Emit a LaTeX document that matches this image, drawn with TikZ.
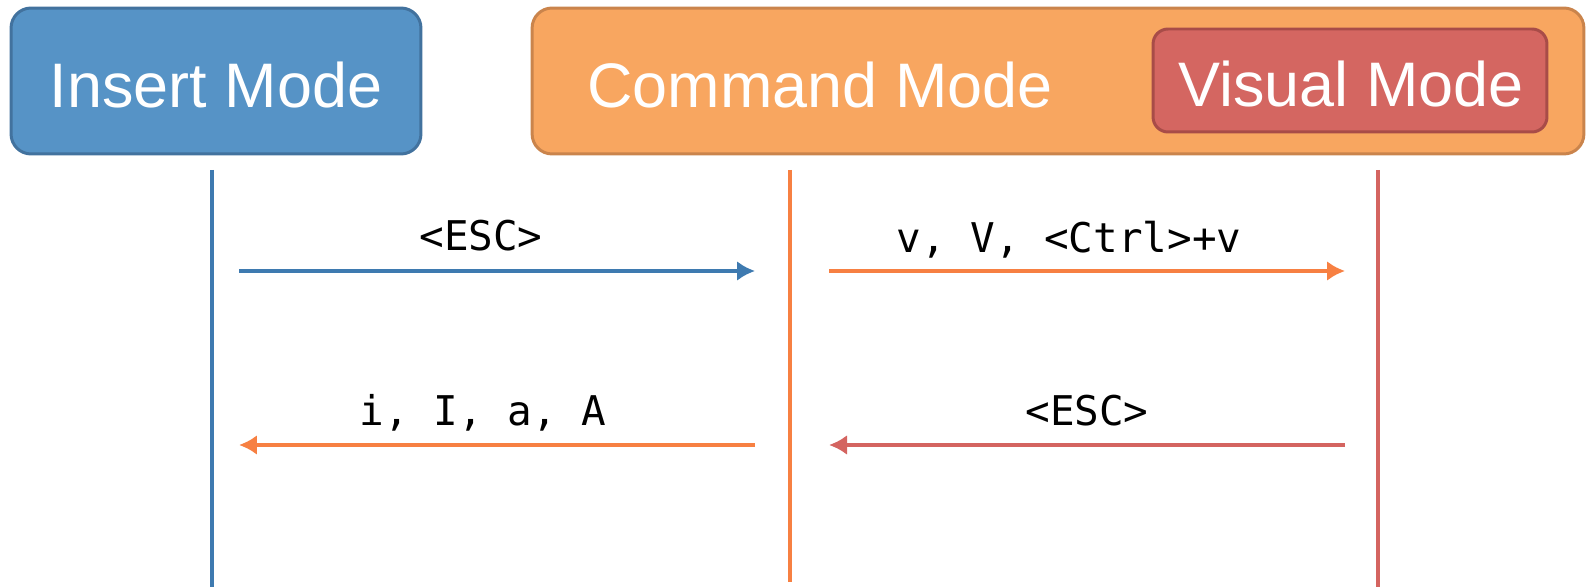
\documentclass[tikz,border=0pt]{standalone}
\usepackage{fontspec}
\setmainfont{Liberation Sans}
\newfontfamily\keyfont{DejaVu Sans Mono}
\usetikzlibrary{arrows.meta}

\definecolor{insfill}{RGB}{86,147,198}
\definecolor{insedge}{RGB}{66,114,158}
\definecolor{cmdfill}{RGB}{248,166,96}
\definecolor{cmdedge}{RGB}{202,132,76}
\definecolor{visfill}{RGB}{212,102,97}
\definecolor{visedge}{RGB}{168,76,72}
\definecolor{insline}{RGB}{62,122,176}
\definecolor{cmdline}{RGB}{247,128,66}
\definecolor{visline}{RGB}{212,100,96}

\begin{document}
\begin{tikzpicture}[x=0.02cm,y=-0.02cm,
  modebox/.style={draw, line width=1.7pt, rounded corners=0.4cm, inner sep=0pt},
  modetext/.style={anchor=base, text=white, font=\fontsize{35.8}{40}\selectfont},
  keytext/.style={anchor=base, font=\keyfont\fontsize{23.3}{27}\selectfont},
  lifeline/.style={line width=2.6pt},
  keyarrow/.style={line width=2.4pt, -{Latex[length=0.36cm,width=0.4cm]}}]
\useasboundingbox (0,0) rectangle (1586,587);

% mode boxes
\node[modebox, fill=insfill, draw=insedge, minimum width=8.2cm, minimum height=2.92cm] (ins) at (216,81) {};
\node[modebox, fill=cmdfill, draw=cmdedge, minimum width=21.04cm, minimum height=2.92cm] (cmd) at (1058,81) {};
\node[modebox, fill=visfill, draw=visedge, rounded corners=0.3cm, minimum width=7.88cm, minimum height=2.06cm] (vis) at (1350,80.5) {};
\node[modetext] (instext) at (216,108) {Insert Mode};
\node[modetext] (cmdtext) at (820,108) {Command Mode};
\node[modetext] (vistext) at (1351,107) {Visual Mode};

% lifelines
\coordinate (instop) at (212,170);
\coordinate (insbot) at (212,587);
\coordinate (cmdtop) at (790,170);
\coordinate (cmdbot) at (790,582);
\coordinate (vistop) at (1378,170);
\coordinate (visbot) at (1378,587);
\draw[lifeline, insline] (instop) -- (insbot);
\draw[lifeline, cmdline] (cmdtop) -- (cmdbot);
\draw[lifeline, visline] (vistop) -- (visbot);

% transitions
\coordinate (a1) at (239,271);
\coordinate (b1) at (755,271);
\coordinate (a2) at (829,271);
\coordinate (b2) at (1345,271);
\coordinate (a3) at (239,445);
\coordinate (b3) at (755,445);
\coordinate (a4) at (829,445);
\coordinate (b4) at (1345,445);
\draw[keyarrow, insline] (a1) -- (b1);
\draw[keyarrow, cmdline] (a2) -- (b2);
\draw[keyarrow, cmdline] (b3) -- (a3);
\draw[keyarrow, visline] (b4) -- (a4);
\node[keytext] (esc1) at (481,251) {<ESC>};
\node[keytext] (vkeys) at (1069,253) {v, V, <Ctrl>+v};
\node[keytext] (ikeys) at (483,426) {i, I, a, A};
\node[keytext] (esc2) at (1087,426) {<ESC>};
\end{tikzpicture}
\end{document}
